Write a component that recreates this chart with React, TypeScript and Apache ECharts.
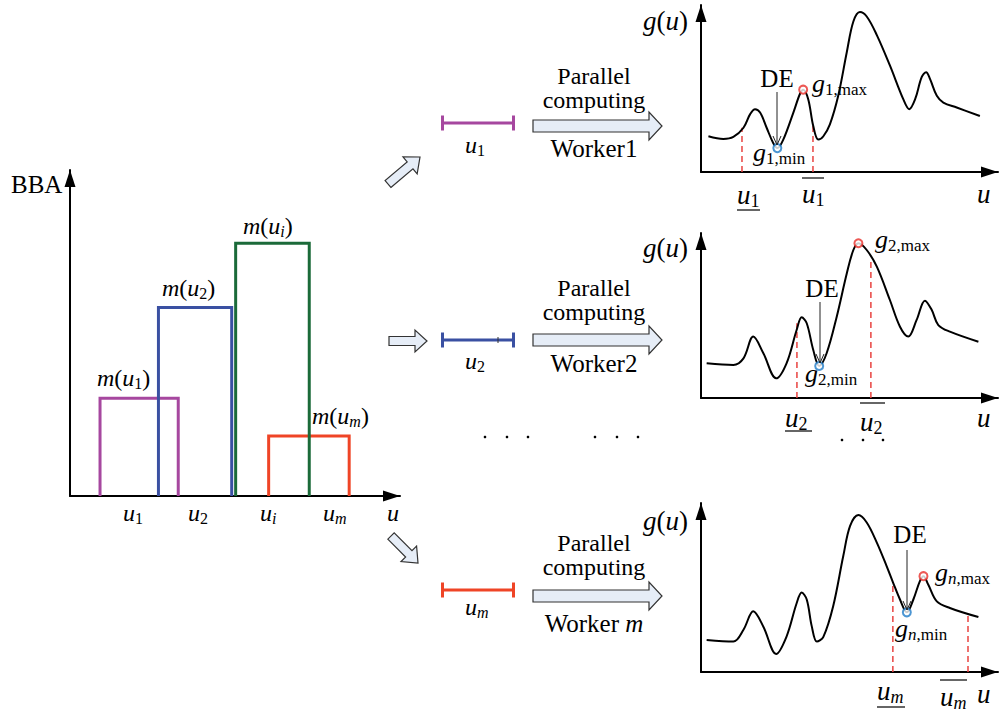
import React, { useEffect, useRef } from 'react';
import * as echarts from 'echarts';

const FONT = '"Liberation Serif", "Times New Roman", Times, serif';

// ---------- Left: basic belief assignment (focal intervals) ----------
const focalSubs = ['1', '2', 'i', 'm'];
const focalLower = [9.1, 26.8, 50.2, 60.2];
const focalUpper = [32.8, 49.0, 72.5, 84.6];
const focalMass = [0.3, 0.578, 0.775, 0.184];
const focalColors = ['#a6479f', '#3a50a2', '#1b6a39', '#ef4426'];

// ---------- Right: g(u) curves for each worker ----------
const curve1U = [2.5, 7.5, 10.9, 14.3, 16.5, 18.2, 19.9, 22.1, 24.3, 25.7, 27.7, 31.1, 33.3, 34.4, 36.1, 37.8, 39.5, 41.2, 43.4, 46.2, 49.1, 51.3, 53.5, 55.8, 59.2, 63.6, 68.1, 70.1, 72.1, 74.3, 75.8, 77.1, 79.4, 81.6, 86.1, 93.9];
const curve1G = [21.4, 19.8, 21.0, 26.5, 34.5, 37.6, 35.6, 26.5, 17.4, 14.3, 19.4, 35.6, 46.7, 49.3, 43.6, 27.5, 19.4, 21.4, 28.5, 45.6, 71.9, 90.1, 95.8, 93.1, 82.0, 63.8, 43.6, 37.6, 43.6, 56.8, 59.8, 55.8, 45.6, 41.6, 38.6, 33.5];
const bounds1 = [13.8, 37.7];
const boundG1 = [26.5, 27.5];
const min1 = [25.7, 14.3];
const max1 = [34.4, 49.3];

const curve2U = [1.9, 10.9, 14.3, 17.6, 21.0, 25.3, 28.8, 32.2, 33.9, 35.6, 37.8, 39.8, 42.3, 45.7, 49.1, 51.3, 53.0, 55.8, 59.2, 63.6, 67.0, 69.8, 72.6, 75.4, 77.7, 79.9, 83.8, 93.4];
const curve2G = [21.0, 20.0, 24.0, 37.2, 27.1, 11.9, 21.0, 41.2, 48.9, 45.3, 29.1, 19.4, 27.1, 49.3, 75.6, 89.7, 93.8, 89.7, 79.6, 59.4, 43.2, 37.2, 47.3, 59.0, 53.3, 44.2, 40.2, 34.1];
const bounds2 = [32.3, 57.2];
const boundG2 = [45.3, 83.6];
const min2 = [39.8, 19.4];
const max2 = [53.0, 93.8];

const curve3U = [1.9, 10.9, 14.3, 17.6, 21.0, 25.3, 28.8, 32.2, 33.9, 35.6, 37.3, 39.0, 41.2, 44.5, 47.9, 50.2, 53.0, 55.8, 59.2, 62.5, 64.7, 67.0, 69.3, 71.5, 73.7, 74.9, 76.5, 79.4, 83.8, 93.4];
const curve3G = [19.0, 18.0, 25.0, 35.9, 26.8, 10.7, 21.0, 40.7, 47.0, 42.9, 27.0, 18.0, 20.8, 38.9, 68.6, 86.5, 92.9, 88.5, 76.6, 62.7, 52.8, 42.9, 35.3, 42.9, 53.8, 56.7, 51.8, 41.8, 37.9, 32.5];
const bounds3 = [64.6, 89.9];
const boundG3 = [52.8, 33.9];
const min3 = [69.3, 35.3];
const max3 = [74.9, 56.7];

const workerNames = ['1', '2', 'm'];
const gSubs = ['1', '2', 'n'];

// ---------- helpers ----------
let measureCtx: CanvasRenderingContext2D | null = null;
function textWidth(t: string, size: number, italic: boolean) {
  if (!measureCtx) measureCtx = document.createElement('canvas').getContext('2d');
  if (!measureCtx) return t.length * size * 0.5;
  measureCtx.font = `${italic ? 'italic ' : ''}${size}px ${FONT}`;
  return measureCtx.measureText(t).width;
}

function txt(x: number, base: number, t: string, size: number, italic = false, align = 'left') {
  return {
    type: 'text',
    x,
    y: base - 0.34 * size,
    z: 100,
    silent: true,
    style: {
      text: t,
      font: `${italic ? 'italic ' : ''}${size}px ${FONT}`,
      fill: '#000',
      align,
      verticalAlign: 'middle',
      textAlign: align,
      textVerticalAlign: 'middle',
    },
  };
}

type Seg = [string, boolean, boolean];
function math(x: number, base: number, segs: Seg[], size: number, subSize: number, align = 'left', drop = 3) {
  const parts = segs.map(([t, it, sub]) => ({ t, it, sub, w: textWidth(t, sub ? subSize : size, it) }));
  const total = parts.reduce((s, p) => s + p.w, 0);
  let cx = align === 'center' ? x - total / 2 : x;
  return parts.map((p) => {
    const e = txt(cx, p.sub ? base + drop : base, p.t, p.sub ? subSize : size, p.it);
    cx += p.w;
    return e;
  });
}

function line(x1: number, y1: number, x2: number, y2: number, stroke = '#000', lineWidth = 1) {
  return { type: 'line', z: 100, silent: true, shape: { x1, y1, x2, y2 }, style: { stroke, lineWidth } };
}

function hollowArrow(x0: number, y0: number, x1: number, y1: number, shaftW: number, headW: number, headL: number) {
  const len = Math.hypot(x1 - x0, y1 - y0);
  const dx = (x1 - x0) / len, dy = (y1 - y0) / len;
  const nx = -dy, ny = dx;
  const bx = x1 - dx * headL, by = y1 - dy * headL;
  const pts = [
    [x0 + nx * shaftW / 2, y0 + ny * shaftW / 2],
    [bx + nx * shaftW / 2, by + ny * shaftW / 2],
    [bx + nx * headW / 2, by + ny * headW / 2],
    [x1, y1],
    [bx - nx * headW / 2, by - ny * headW / 2],
    [bx - nx * shaftW / 2, by - ny * shaftW / 2],
    [x0 - nx * shaftW / 2, y0 - ny * shaftW / 2],
  ];
  return { type: 'polygon', z: 100, silent: true, shape: { points: pts }, style: { fill: '#e6edf7', stroke: '#333', lineWidth: 1.2 } };
}

function deArrow(x: number, y0: number, y1: number) {
  return [line(x, y0, x, y1, '#222', 1), line(x - 4, y1 - 9, x, y1, '#222', 1), line(x + 4, y1 - 9, x, y1, '#222', 1)];
}

function buildGraphics() {
  const g: any[] = [];
  // Left chart texts
  g.push(txt(11, 193, 'BBA', 25));
  const mPos = [[97, 386], [162, 296], [243, 234], [312, 424]];
  const axPos = [123, 188, 260, 323];
  focalSubs.forEach((s, i) => {
    const subIt = s === 'i' || s === 'm';
    g.push(...math(mPos[i][0], mPos[i][1], [['m', true, false], ['(', false, false], ['u', true, false], [s, subIt, true], [')', false, false]], 24, 16));
    g.push(...math(axPos[i], 521, [['u', true, false], [s, subIt, true]], 24, 16));
  });
  g.push(txt(387, 521, 'u', 24, true));

  // Middle column
  const arrowY = [126, 340, 596];
  const parB = [84, 296, 551];
  const compB = [108, 320, 575];
  const workB = [157, 372, 632];
  const ivY = [123, 340, 590];
  const ivLabelB = [153, 369, 615];
  workerNames.forEach((w, k) => {
    g.push(txt(594, parB[k], 'Parallel', 24, false, 'center'));
    g.push(txt(594, compB[k], 'computing', 24, false, 'center'));
    if (w === 'm') g.push(...math(594, workB[k], [['Worker ', false, false], ['m', true, false]], 25, 17, 'center'));
    else g.push(txt(594, workB[k], 'Worker' + w, 25, false, 'center'));
    g.push(hollowArrow(533, arrowY[k], 662, arrowY[k], 12, 28, 13));
    const c = focalColors[k === 2 ? 3 : k];
    g.push(line(441, ivY[k], 515, ivY[k], c, 3));
    g.push(line(442.5, ivY[k] - 7.5, 442.5, ivY[k] + 7.5, c, 3));
    g.push(line(513.5, ivY[k] - 7.5, 513.5, ivY[k] + 7.5, c, 3));
    g.push(...math(465, ivLabelB[k], [['u', true, false], [w, w === 'm', true]], 24, 16));
  });
  g.push(line(498, 337, 498, 343, '#333', 1));
  g.push(hollowArrow(388, 184, 420, 157, 9, 22, 13));
  g.push(hollowArrow(389, 341, 427, 341, 9, 22, 12));
  g.push(hollowArrow(391, 536, 418, 563, 9, 22, 13));
  [485, 507, 528, 595, 617, 638].forEach((x) => g.push({ type: 'circle', z: 100, silent: true, shape: { cx: x, cy: 437, r: 1.3 }, style: { fill: '#000' } }));
  [842, 863, 883].forEach((x) => g.push({ type: 'circle', z: 100, silent: true, shape: { cx: x, cy: 440, r: 1.3 }, style: { fill: '#000' } }));

  // Right charts
  const gu = [30, 257, 530];
  const de = [[777, 87], [822, 297], [910, 543]];
  const deA = [[777, 92, 145], [820, 302, 363], [907, 550, 610]];
  const gmax = [[812, 92], [875, 248], [935, 581]];
  const gmin = [[753, 161], [805, 382], [895, 637]];
  const lo = [[737, 204, 210, 760], [785, 427, 431, 812], [877, 700, 707, 905]];
  const hi = [[802, 203, 178, 824], [860, 431, 403, 885], [940, 706, 680, 967]];
  const uB = [203, 427, 703];
  workerNames.forEach((w, k) => {
    g.push(...math(643, gu[k], [['g', true, false], ['(', false, false], ['u', true, false], [')', false, false]], 27, 18));
    g.push(txt(de[k][0], de[k][1], 'DE', 25, false, 'center'));
    g.push(...deArrow(deA[k][0], deA[k][1], deA[k][2]));
    const gs = gSubs[k];
    const gSegMax: Seg[] = gs === 'n' ? [['g', true, false], ['n', true, true], [',max', false, true]] : [['g', true, false], [gs + ',max', false, true]];
    const gSegMin: Seg[] = gs === 'n' ? [['g', true, false], ['n', true, true], [',min', false, true]] : [['g', true, false], [gs + ',min', false, true]];
    g.push(...math(gmax[k][0], gmax[k][1], gSegMax, 26, 17));
    g.push(...math(gmin[k][0], gmin[k][1], gSegMin, 26, 17));
    const uSeg: Seg[] = [['u', true, false], [w, w === 'm', true]];
    g.push(...math(lo[k][0], lo[k][1], uSeg, 27, 18));
    g.push(line(lo[k][0], lo[k][2], lo[k][3], lo[k][2], '#333', 1.5));
    g.push(...math(hi[k][0], hi[k][1], uSeg, 27, 18));
    g.push(line(hi[k][0], hi[k][2], hi[k][3], hi[k][2], '#333', 1.5));
    g.push(txt(977, uB[k], 'u', 27, true));
  });
  return g;
}

function axisLine() {
  return {
    show: true,
    onZero: false,
    symbol: ['none', 'triangle'],
    symbolSize: [11, 17],
    symbolOffset: [0, -8.5],
    lineStyle: { color: '#000', width: 2 },
  };
}

export default function App() {
  const ref = useRef<HTMLDivElement>(null);
  useEffect(() => {
    if (!ref.current) return;
    const chart = echarts.init(ref.current, undefined, { renderer: 'svg' });
    const grids = [
      { left: 70, top: 170, width: 330, height: 326 },
      { left: 701, top: 5, width: 297, height: 167 },
      { left: 701, top: 233, width: 297, height: 165 },
      { left: 701, top: 503, width: 297, height: 169 },
    ];
    const xAxis = grids.map((_, i) => ({
      type: 'value', gridIndex: i, min: 0, max: 100,
      axisLine: axisLine(), axisTick: { show: false }, axisLabel: { show: false }, splitLine: { show: false },
    }));
    const yAxis = grids.map((_, i) => ({
      type: 'value', gridIndex: i, min: 0, max: i === 0 ? 1 : 100,
      axisLine: axisLine(), axisTick: { show: false }, axisLabel: { show: false }, splitLine: { show: false },
    }));
    const series: any[] = [];
    [0, 1, 3, 2].forEach((i) => {
      series.push({
        type: 'line', xAxisIndex: 0, yAxisIndex: 0, symbol: 'none', silent: true, z: 3,
        data: [[focalLower[i], 0], [focalLower[i], focalMass[i]], [focalUpper[i], focalMass[i]], [focalUpper[i], 0]],
        lineStyle: { color: focalColors[i], width: 3, join: 'miter' },
      });
    });
    const workers = [
      { u: curve1U, g: curve1G, b: bounds1, bg: boundG1, mn: min1, mx: max1 },
      { u: curve2U, g: curve2G, b: bounds2, bg: boundG2, mn: min2, mx: max2 },
      { u: curve3U, g: curve3G, b: bounds3, bg: boundG3, mn: min3, mx: max3 },
    ];
    workers.forEach((w, k) => {
      const ax = k + 1;
      w.b.forEach((b, j) => {
        series.push({
          type: 'line', xAxisIndex: ax, yAxisIndex: ax, symbol: 'none', silent: true, z: 2,
          data: [[b, 0], [b, w.bg[j]]],
          lineStyle: { color: '#e8423f', width: 1.5, type: [6, 4] },
        });
      });
      series.push({
        type: 'line', xAxisIndex: ax, yAxisIndex: ax, symbol: 'none', silent: true, z: 3,
        smooth: 0.35,
        data: w.u.map((u, i) => [u, w.g[i]]),
        lineStyle: { color: '#000', width: 2 },
      });
      series.push({
        type: 'scatter', xAxisIndex: ax, yAxisIndex: ax, silent: true, z: 5,
        symbol: 'circle', symbolSize: 8, data: [w.mn],
        itemStyle: { color: '#fff', borderColor: '#1f7cc8', borderWidth: 2 },
      });
      series.push({
        type: 'scatter', xAxisIndex: ax, yAxisIndex: ax, silent: true, z: 5,
        symbol: 'circle', symbolSize: 8, data: [w.mx],
        itemStyle: { color: '#fff', borderColor: '#e8302b', borderWidth: 2 },
      });
    });
    chart.setOption({
      animation: false,
      backgroundColor: '#fff',
      grid: grids,
      xAxis,
      yAxis,
      series,
      graphic: { elements: buildGraphics() },
    });
    return () => chart.dispose();
  }, []);
  return <div ref={ref} style={{ position: 'fixed', left: 0, top: 0, width: 999, height: 715, background: '#fff' }} />;
}
